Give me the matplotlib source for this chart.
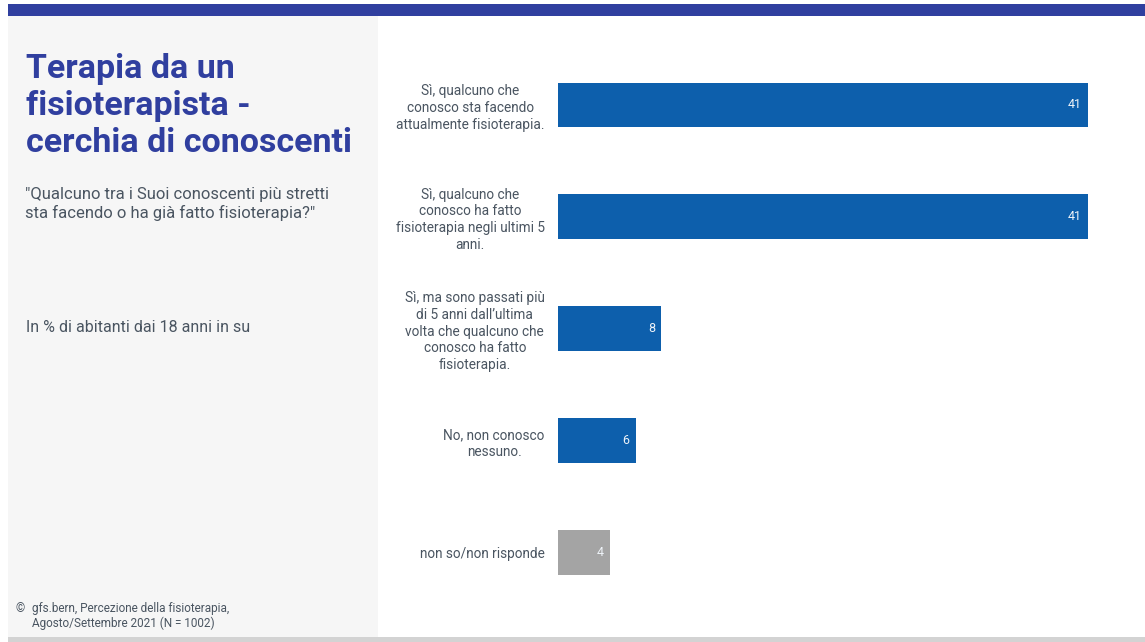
import matplotlib
matplotlib.use("Agg")
import matplotlib.pyplot as plt
from matplotlib.patches import Rectangle

# risposte e percentuali
categorie = [
    "Sì, qualcuno che\nconosco sta facendo\nattualmente fisioterapia.",
    "Sì, qualcuno che\nconosco ha fatto\nfisioterapia negli ultimi 5\nanni.",
    "Sì, ma sono passati più\ndi 5 anni dall’ultima\nvolta che qualcuno che\nconosco ha fatto\nfisioterapia.",
    "No, non conosco\nnessuno.",
    "non so/non risponde",
]
valori = [41, 41, 8, 6, 4]
colori = ["#0d5fac", "#0d5fac", "#0d5fac", "#0d5fac", "#a4a4a4"]

titolo = "Terapia da un\nfisioterapista -\ncerchia di conoscenti"
domanda = "\"Qualcuno tra i Suoi conoscenti più stretti\nsta facendo o ha già fatto fisioterapia?\""
base = "In % di abitanti dai 18 anni in su"
fonte = "gfs.bern, Percezione della fisioterapia,\nAgosto/Settembre 2021 (N = 1002)"

W, H = 1145, 642
blu = "#303f9f"
grigio_testo = "#4a5561"

plt.rcParams["font.family"] = ["Roboto", "DejaVu Sans"]

fig = plt.figure(figsize=(W / 100, H / 100), dpi=100)
fig.patch.set_facecolor("white")

def px(x, y):
    return x / W, 1 - y / H

# fasce di sfondo
fig.patches.append(Rectangle(px(8, 16), (W - 8) / W, 12 / H, transform=fig.transFigure,
                             facecolor=blu, edgecolor="none", zorder=0))
fig.patches.append(Rectangle(px(8, 637), 370 / W, 621 / H, transform=fig.transFigure,
                             facecolor="#f6f6f6", edgecolor="none", zorder=0))
fig.patches.append(Rectangle(px(8, 642), (W - 8) / W, 5 / H, transform=fig.transFigure,
                             facecolor="#d3d3d3", edgecolor="none", zorder=0))

# testi del pannello sinistro
fig.text(*px(26, 53), titolo, fontsize=24.5, fontweight="bold", color=blu,
         va="top", ha="left", linespacing=1.19)
fig.text(*px(25, 187), domanda, fontsize=12, color=grigio_testo, va="top", ha="left",
         linespacing=1.25)
fig.text(*px(26, 320), base, fontsize=11.5, color=grigio_testo, va="top", ha="left")
fig.text(*px(15, 602), "©", fontsize=8.5, color=grigio_testo, va="top", ha="left")
fig.text(*px(32, 602), fonte, fontsize=8.5, color=grigio_testo, va="top", ha="left",
         linespacing=1.15)

# grafico a barre
scala = 12.93  # pixel per punto percentuale
left, right = 558, W
top, bottom = 49, 608.5
ax = fig.add_axes([left / W, 1 - bottom / H, (right - left) / W, (bottom - top) / H])
ax.set_facecolor("none")
pos = list(range(len(valori)))
ax.barh(pos, valori, height=0.4, color=colori)
ax.set_xlim(0, (right - left) / scala)
ax.set_ylim(len(valori) - 0.5, -0.5)
ax.set_yticks(pos)
ax.set_yticklabels(categorie, fontsize=9.8, color=grigio_testo, linespacing=1.25)
for lab in ax.get_yticklabels():
    lab.set_multialignment("center")
ax.tick_params(axis="y", length=0, pad=9.5)
ax.set_xticks([])
for s in ax.spines.values():
    s.set_visible(False)

for i, v in enumerate(valori):
    ax.annotate(str(v), (v, i), xytext=(-4.5, 0), textcoords="offset points",
                ha="right", va="center", fontsize=9, color="#eef3f8")

fig.savefig("out.png", dpi=100)
